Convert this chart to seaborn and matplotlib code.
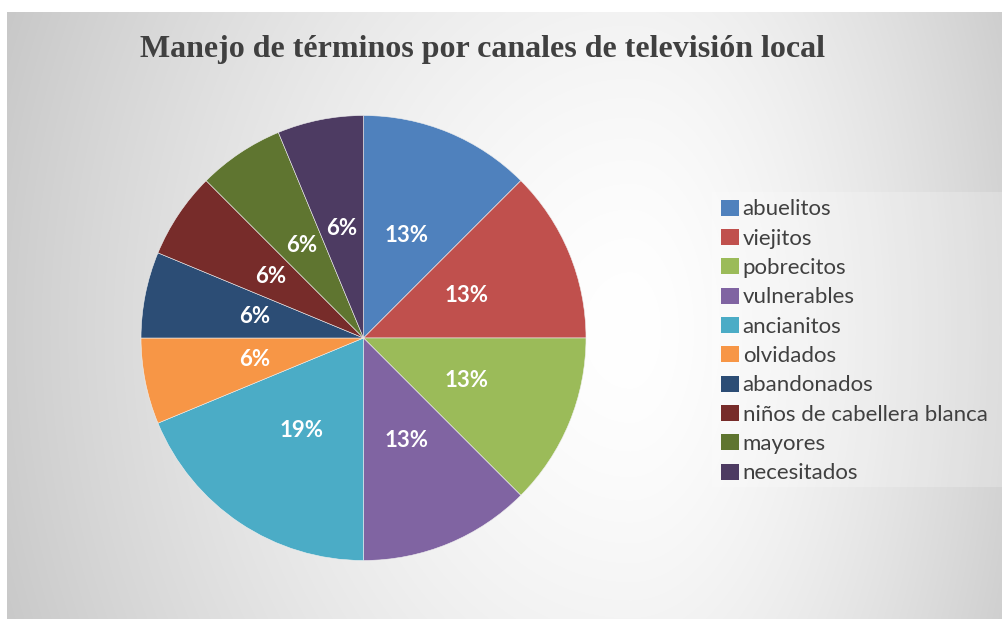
import numpy as np
import matplotlib
matplotlib.use("Agg")
import matplotlib.pyplot as plt
from matplotlib.patches import Rectangle, Patch
import seaborn as sns

# ---- data ----
categories = ["abuelitos", "viejitos", "pobrecitos", "vulnerables", "ancianitos",
              "olvidados", "abandonados", "niños de cabellera blanca", "mayores", "necesitados"]
counts = [2, 2, 2, 2, 3, 1, 1, 1, 1, 1]
title = "Manejo de términos por canales de televisión local"
colors = ["#4F81BD", "#C0504D", "#9BBB59", "#8064A2", "#4BACC6",
          "#F79646", "#2C4D75", "#772C2A", "#5F7530", "#4D3B62"]

sns.set_theme(style="white")
plt.rcParams["font.family"] = ["Lato", "DejaVu Sans"]
palette = sns.color_palette(colors)

W, H = 1003, 619
fig = plt.figure(figsize=(W / 100, H / 100), dpi=100)
fig.patch.set_facecolor("white")

# ---- background radial gradient (chart area) ----
x0, y0 = 7, 12  # top-left of chart area in px
bg = fig.add_axes([x0 / W, 0, 1 - x0 / W, (H - y0) / H])
bg.set_axis_off()
nx, ny = W - x0, H - y0
xx, yy = np.meshgrid(np.arange(nx) + x0, np.arange(ny) + y0)
cx, cy = 630, 330
rx = np.where(xx < cx, 640.0, 420.0)
d = np.sqrt(((xx - cx) / rx) ** 2 + ((yy - cy) / 800.0) ** 2)
v = 1.0 - 0.2 * np.clip(d, 0, 1.2) ** 1.5
img = np.dstack([v, v, v])
bg.imshow(img, aspect="auto", extent=(0, 1, 0, 1), origin="upper")
bg.set_xlim(0, 1)
bg.set_ylim(0, 1)
# lighter box behind legend
lx0, ly0, lx1, ly1 = 712, 192, 1003, 487
bg.add_patch(Rectangle(((lx0 - x0) / nx, 1 - (ly1 - y0) / ny), (lx1 - lx0) / nx, (ly1 - ly0) / ny,
                       facecolor="white", alpha=0.22, edgecolor="none", transform=bg.transAxes))

# ---- title ----
fig.text(483 / W, 1 - 49 / H, title, ha="center", va="center",
         fontsize=23, fontweight="bold", color="#404040",
         family=["Liberation Serif", "DejaVu Serif"])

# ---- pie ----
pcx, pcy, r = 363.5, 338, 222.5
ax = fig.add_axes([(pcx - r) / W, (H - pcy - r) / H, 2 * r / W, 2 * r / H])
ax.set_axis_off()
wedges, texts, autotexts = ax.pie(
    counts, colors=palette, startangle=90, counterclock=False,
    autopct=lambda p: f"{int(p + 0.5)}%", pctdistance=0.5, radius=1,
    wedgeprops=dict(linewidth=0.4, edgecolor="#f0f0f0"),
    textprops=dict(color="white", fontsize=16, fontweight="bold"))
ax.set_xlim(-1, 1)
ax.set_ylim(-1, 1)

# ---- legend ----
handles = [Patch(facecolor=c, edgecolor="none") for c in palette]
leg = fig.legend(handles, categories, loc="upper left",
                 bbox_to_anchor=(716.3 / W, 1 - 195 / H), frameon=False,
                 fontsize=16, labelspacing=0.42, handlelength=0.83, handleheight=0.72,
                 handletextpad=0.16, borderpad=0.2, borderaxespad=0)
for t in leg.get_texts():
    t.set_color("#404040")

fig.savefig("out.png", dpi=100)
